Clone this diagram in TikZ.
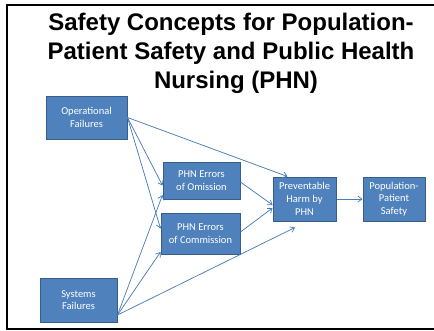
\documentclass[tikz,border=0pt]{standalone}
\usepackage{fontspec}
\setmainfont{Carlito}
\newfontfamily\titlefont{Liberation Sans}
\usetikzlibrary{arrows.meta}
\definecolor{boxfill}{HTML}{4F81BD}
\definecolor{boxline}{HTML}{385D8A}
\definecolor{arrowcol}{HTML}{4A7EBB}
\tikzset{
  conceptbox/.style={draw=boxline, fill=boxfill, line width=1pt, inner sep=0pt,
    align=center, text=white, font=\fontsize{10.5}{12.7}\selectfont},
  flow/.style={draw=arrowcol, line width=0.75pt, -{Straight Barb[length=4pt,width=6pt]}},
  titletext/.style={anchor=base, inner sep=0pt, font=\titlefont\bfseries\fontsize{24}{29}\selectfont}
}
\begin{document}
\begin{tikzpicture}[x=1pt, y=-1pt]
\useasboundingbox (0,0) rectangle (434,330);
\fill[white] (0,0) rectangle (434,330);
% frame
\draw[line width=2pt, line cap=rect] (440,5) -- (7,5) -- (7,329) -- (440,329);
% title
\node[titletext] (t1) at (231,30.7) {Safety Concepts for Population-};
\node[titletext] (t2) at (231,59.7) {Patient Safety and Public Health};
\node[titletext] (t3) at (236,88.5) {Nursing (PHN)};
% boxes
\node[conceptbox, minimum width=81pt, minimum height=43pt] (op) at (86.5,117.5) {Operational\\Failures};
\node[conceptbox, minimum width=77pt, minimum height=37pt] (om) at (201.5,180.5) {PHN Errors\\of Omission};
\node[conceptbox, minimum width=79pt, minimum height=41pt] (co) at (200.5,233.5) {PHN Errors\\of Commission};
\node[conceptbox, minimum width=63pt, minimum height=44pt] (ph) at (304.5,199) {Preventable\\Harm by\\PHN};
\node[conceptbox, minimum width=62pt, minimum height=44pt] (pp) at (394,199) {Population-\\Patient\\Safety};
\node[conceptbox, minimum width=77pt, minimum height=44pt] (sf) at (78.5,300) {Systems\\Failures};
% connectors
\coordinate (sfout) at ([yshift=-15pt]sf.east);
\draw[flow] (op.east) -- ([yshift=-5pt]om.west);
\draw[flow] (op.east) -- ([yshift=5pt]co.west);
\draw[flow] (op.east) -- ([xshift=-17pt]ph.north);
\draw[flow] (sfout) -- ([yshift=-14.5pt]om.west);
\draw[flow] (sfout) -- ([yshift=-18.5pt]co.west);
\draw[flow] (sfout) -- ([xshift=-9.5pt,yshift=-6pt]ph.south);
\draw[flow] ([yshift=-1.5pt]om.east) -- ([yshift=-6pt]ph.west);
\draw[flow] ([yshift=1.5pt]co.east) -- ([yshift=-9pt]ph.west);
\draw[flow] (ph.east) -- (pp.west);
\end{tikzpicture}
\end{document}
